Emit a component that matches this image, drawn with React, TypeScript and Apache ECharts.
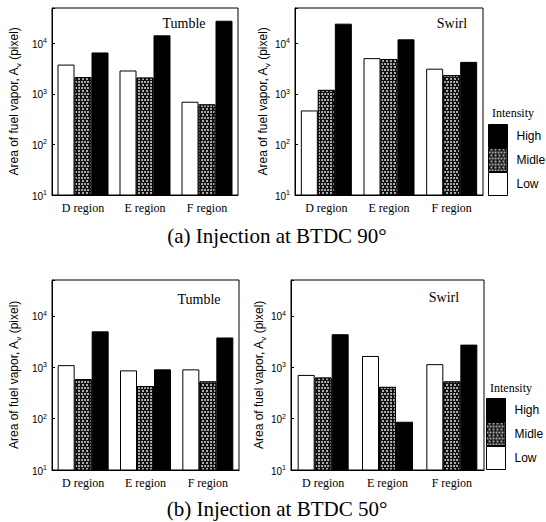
import { useEffect, useRef } from 'react';
import * as echarts from 'echarts';

// ---- data ----
const categories = ['D region', 'E region', 'F region'];
const intensityNames = ['Low', 'Midle', 'High'];
const legendOrder = ['High', 'Midle', 'Low'];
const panelLabels = ['Tumble', 'Swirl', 'Tumble', 'Swirl'];
const captions = ['(a) Injection at BTDC 90°', '(b) Injection at BTDC 50°'];
const yMin = 10;
const yMax = 50000;

const tumble90Low = [3800, 2900, 700];
const tumble90Midle = [2150, 2100, 620];
const tumble90High = [6600, 14400, 28000];

const swirl90Low = [470, 5100, 3150];
const swirl90Midle = [1200, 4900, 2350];
const swirl90High = [24500, 12000, 4300];

const tumble50Low = [1100, 870, 910];
const tumble50Midle = [590, 430, 530];
const tumble50High = [5000, 910, 3800];

const swirl50Low = [710, 1660, 1150];
const swirl50Midle = [630, 415, 530];
const swirl50High = [4400, 87, 2760];

const panelData = [
  [tumble90Low, tumble90Midle, tumble90High],
  [swirl90Low, swirl90Midle, swirl90High],
  [tumble50Low, tumble50Midle, tumble50High],
  [swirl50Low, swirl50Midle, swirl50High],
];

// ---- layout ----
const grids = [
  { left: 52, top: 8, width: 186, height: 187 },
  { left: 295, top: 8, width: 188, height: 187 },
  { left: 52, top: 280, width: 187, height: 190 },
  { left: 291, top: 280, width: 193, height: 190 },
];
const nameGaps = [30, 22, 30, 22];
const labelPos = [
  [184, 23],
  [452, 23],
  [199, 299],
  [444, 297],
];
const captionPos = [
  [277, 236],
  [277, 509],
];
const legendPos = [
  { left: 488, top: 124, titleX: 513, titleY: 113 },
  { left: 486, top: 398, titleX: 511, titleY: 388 },
];

const SERIF = "'Liberation Serif', 'Times New Roman', serif";
const SANS = "'Liberation Sans', Arial, sans-serif";

const seriesStyles = [
  { color: '#ffffff', borderColor: '#000', borderWidth: 1 },
  {
    color: '#111111',
    borderColor: '#000',
    borderWidth: 1,
    decal: {
      symbol: 'circle',
      symbolSize: 0.8,
      color: '#ffffff',
      dashArrayX: [[2, 1], [0, 1.5, 2, 0]],
      dashArrayY: [2, 1],
    },
  },
  { color: '#000000', borderColor: '#000', borderWidth: 1 },
];

export default function App() {
  const ref = useRef<HTMLDivElement>(null);

  useEffect(() => {
    if (!ref.current) return;
    const chart = echarts.init(ref.current, null, { renderer: 'svg' });

    const xAxis = grids.map((_, i) => ({
      type: 'category',
      gridIndex: i,
      data: categories,
      axisLine: { show: true, lineStyle: { color: '#000', width: 1 } },
      axisTick: { show: false },
      axisLabel: { color: '#000', fontFamily: SERIF, fontSize: 12, margin: 7 },
    }));

    const yAxis = grids.map((_, i) => ({
      type: 'log',
      logBase: 10,
      gridIndex: i,
      min: yMin,
      max: yMax,
      axisLine: { show: true, lineStyle: { color: '#000', width: 1 } },
      axisTick: { show: true, inside: true, length: 3, lineStyle: { color: '#000' } },
      splitLine: { show: false },
      axisLabel: {
        margin: 5,
        formatter: (v: number) => {
          const e = Math.round(Math.log10(v));
          if (Math.abs(Math.pow(10, e) - v) > 1e-6 * v) return '';
          return `{b|10}{e|${e}}`;
        },
        rich: {
          b: { fontSize: 10, fontFamily: SANS, color: '#000', lineHeight: 12, verticalAlign: 'bottom' },
          e: { fontSize: 7, fontFamily: SANS, color: '#000', verticalAlign: 'top' },
        },
      },
      name: '{a|Area of fuel vapor, A}{s|v}{a| (pixel)}',
      nameLocation: 'middle',
      nameRotate: 90,
      nameGap: nameGaps[i],
      nameTextStyle: {
        rich: {
          a: { fontSize: 12, fontFamily: SANS, color: '#000', lineHeight: 14, verticalAlign: 'top' },
          s: { fontSize: 8, fontFamily: SANS, color: '#000', verticalAlign: 'bottom', lineHeight: 14 },
        },
      },
    }));

    const series: any[] = [];
    panelData.forEach((arrs, p) => {
      arrs.forEach((vals, k) => {
        series.push({
          type: 'bar',
          name: intensityNames[k],
          xAxisIndex: p,
          yAxisIndex: p,
          data: vals,
          barWidth: 17,
          barGap: '0%',
          itemStyle: seriesStyles[k],
          emphasis: { disabled: true },
        });
      });
    });

    const legend = legendPos.map((lp) => ({
      orient: 'vertical',
      left: lp.left,
      top: lp.top,
      padding: 0,
      itemWidth: 19,
      itemHeight: 23,
      itemGap: 0,
      icon: 'rect',
      selectedMode: false,
      data: legendOrder,
      itemStyle: { borderColor: '#000', borderWidth: 1 },
      textStyle: { fontSize: 12, fontFamily: SANS, color: '#000', padding: [0, 0, 0, 4] },
    }));

    const graphic: any[] = [];
    panelLabels.forEach((t, i) => {
      graphic.push({
        type: 'text',
        x: labelPos[i][0],
        y: labelPos[i][1],
        style: { text: t, fontSize: 14, fontFamily: SERIF, fill: '#000', align: 'center', verticalAlign: 'middle' },
      });
    });
    captions.forEach((t, i) => {
      graphic.push({
        type: 'text',
        x: captionPos[i][0],
        y: captionPos[i][1],
        style: { text: t, fontSize: 21, fontFamily: SERIF, fill: '#000', align: 'center', verticalAlign: 'middle' },
      });
    });
    legendPos.forEach((lp) => {
      graphic.push({
        type: 'text',
        x: lp.titleX,
        y: lp.titleY,
        style: { text: 'Intensity', fontSize: 12, fontFamily: SERIF, fill: '#000', align: 'center', verticalAlign: 'middle' },
      });
    });

    chart.setOption({
      animation: false,
      backgroundColor: '#fff',
      grid: grids.map((g) => ({ ...g, show: true, borderColor: '#000', borderWidth: 1, backgroundColor: 'transparent' })),
      xAxis,
      yAxis,
      legend,
      series,
      graphic,
    });

    return () => chart.dispose();
  }, []);

  return (
    <div
      ref={ref}
      style={{ position: 'fixed', left: 0, top: 0, width: 546, height: 522, background: '#fff' }}
    />
  );
}
